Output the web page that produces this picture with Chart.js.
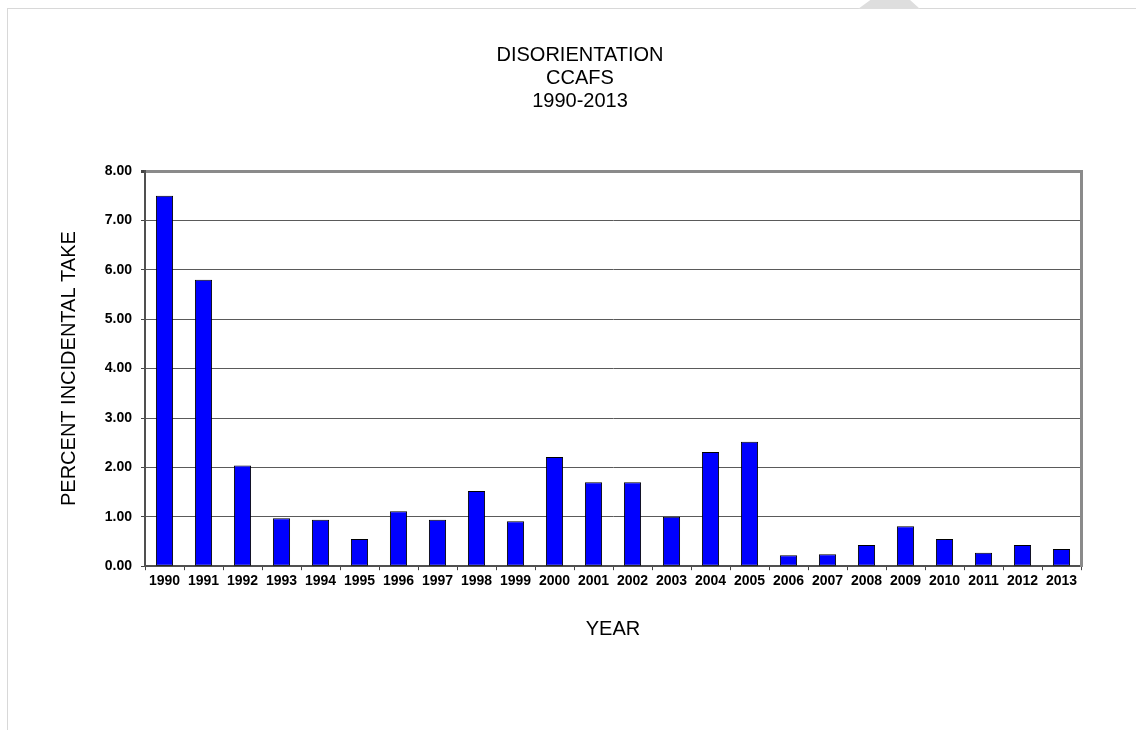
<!DOCTYPE html>
<html>
<head>
<meta charset="utf-8">
<title>Disorientation CCAFS 1990-2013</title>
<script src="https://cdn.jsdelivr.net/npm/chart.js@4/dist/chart.umd.min.js"></script>
<style>
    html, body { margin: 0; padding: 0; background: #fff; }
    #wrap { position: relative; width: 1136px; height: 730px; overflow: hidden; }
    #frame { position: absolute; left: 7px; top: 8px; right: -2px; bottom: -2px; border-top: 1px solid #d8d8d8; border-left: 1px solid #d8d8d8; }
    #mark { position: absolute; left: 858px; top: 0; width: 62px; height: 9px; background: #dedede;
            clip-path: polygon(20% 0, 84% 0, 100% 100%, 0 100%); }
    #myChart { position: absolute; left: 0; top: 0; }
</style>
</head>
<body>
<div id="wrap">
    <div id="frame"></div>
    <div id="mark"></div>
    <canvas id="myChart" width="1136" height="730"></canvas>
</div>
<script>
const years = ["1990", "1991", "1992", "1993", "1994", "1995", "1996", "1997", "1998", "1999", "2000", "2001",
    "2002", "2003", "2004", "2005", "2006", "2007", "2008", "2009", "2010", "2011", "2012", "2013"];
const percentTake = [7.5, 5.8, 2.04, 0.97, 0.94, 0.55, 1.11, 0.94, 1.52, 0.91, 2.21, 1.7,
    1.7, 1.0, 2.31, 2.52, 0.22, 0.24, 0.43, 0.81, 0.55, 0.27, 0.43, 0.35];
const titleLines = ["DISORIENTATION", "CCAFS", "1990-2013"];
const yMin = 0;
const yMax = 8;
const yStep = 1;

const fontFamily = "'Liberation Sans', Arial, sans-serif";
const ctx = document.getElementById("myChart").getContext("2d");

const myChart = new Chart(ctx, {
    type: "bar",
    data: {
        labels: years,
        datasets: [
            {
                label: "Percent incidental take",
                data: percentTake,
                backgroundColor: "#0000ff",
                borderColor: "#000000",
                borderWidth: 1,
                borderSkipped: false,
                barPercentage: 0.44,
                categoryPercentage: 1
            }
        ]
    },
    options: {
        responsive: false,
        animation: false,
        layout: {
            padding: { left: 24, right: 0, top: 0, bottom: 86 }
        },
        plugins: {
            legend: { display: false },
            tooltip: { enabled: false },
            title: {
                display: true,
                text: titleLines,
                color: "#000",
                font: { family: fontFamily, size: 20, weight: "normal", lineHeight: 1.15 },
                padding: { top: 44, bottom: 58 }
            }
        },
        scales: {
            x: {
                offset: true,
                grid: {
                    display: true,
                    offset: true,
                    drawOnChartArea: false,
                    drawTicks: true,
                    tickLength: 4,
                    tickColor: "#444"
                },
                border: { display: true, color: "#505050", width: 2 },
                ticks: {
                    color: "#000",
                    padding: 3,
                    maxRotation: 0,
                    autoSkip: false,
                    font: { family: fontFamily, size: 14, weight: "bold" }
                },
                title: {
                    display: true,
                    text: "YEAR",
                    color: "#000",
                    font: { family: fontFamily, size: 20, weight: "normal", lineHeight: 1.2 },
                    padding: { top: 24, bottom: 3 }
                }
            },
            y: {
                position: "left",
                min: yMin,
                max: yMax,
                afterFit: scale => { scale.width = 121; },
                grid: {
                    tickLength: 4,
                    color: c => (c.tick && c.tick.value === yMax ? "#8a8a8a" : "#5a5a5a"),
                    lineWidth: c => (c.tick && c.tick.value === yMax ? 3 : 1),
                    tickColor: "#444"
                },
                border: { display: true, color: "#505050", width: 2 },
                ticks: {
                    stepSize: yStep,
                    color: "#000",
                    padding: 9,
                    font: { family: fontFamily, size: 14, weight: "bold" },
                    callback: value => Number(value).toFixed(2)
                },
                title: {
                    display: true,
                    text: "PERCENT INCIDENTAL TAKE",
                    color: "#000",
                    font: { family: fontFamily, size: 20, weight: "normal", lineHeight: 1.2 },
                    padding: { top: 33, bottom: 0 }
                }
            },
            yRight: {
                position: "right",
                min: yMin,
                max: yMax,
                afterFit: scale => { scale.width = 55; },
                grid: { display: false },
                ticks: { display: false },
                border: { display: true, color: "#8a8a8a", width: 3 }
            }
        }
    }
});
</script>
</body>
</html>
